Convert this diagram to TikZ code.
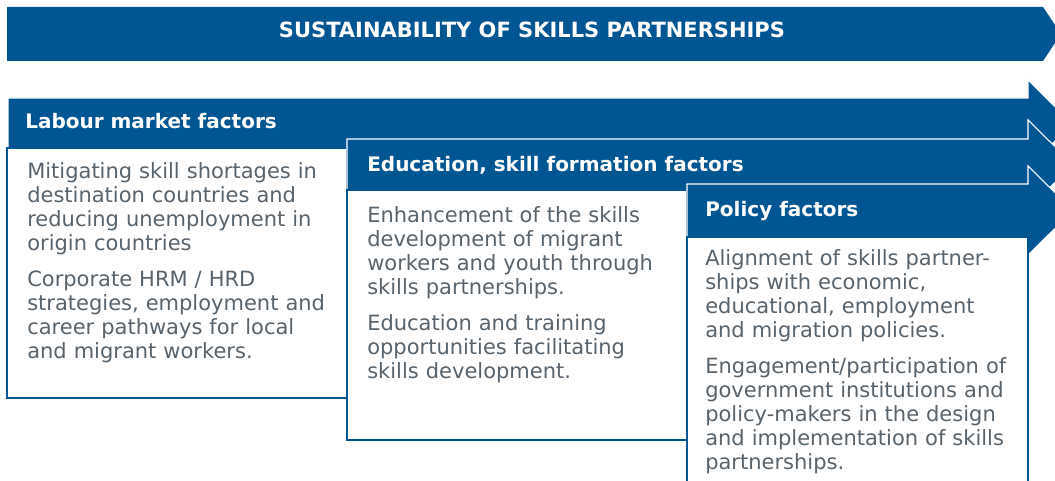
\documentclass[tikz,border=0pt]{standalone}
\usepackage{fontspec}
\setmainfont{DejaVu Sans}
\usepackage{tikz}

\definecolor{skillblue}{RGB}{0,85,147}
\definecolor{bodygray}{RGB}{88,99,108}

\tikzset{
  band/.style={fill=skillblue, draw=white, line width=0.8pt},
  factorbox/.style={fill=white, draw=skillblue, line width=1pt},
  bannertext/.style={text=white, inner sep=0pt, font=\bfseries\fontsize{15.75}{18}\selectfont},
  headtext/.style={text=white, inner sep=0pt, font=\bfseries\fontsize{15}{18}\selectfont},
  bodytext/.style={text=bodygray, inner sep=0pt, text width=235pt, align=left,
    font=\fontsize{15.75}{18}\selectfont}
}

\begin{document}
\begin{tikzpicture}[x=0.75pt, y=-0.75pt]
\useasboundingbox (0,0) rectangle (1055,481);
\clip (0,0) rectangle (1055,481);

%Title banner
\path[fill=skillblue]
(7, 7) --
(1043, 7) --
(1061, 34) --
(1043, 61) --
(7, 61) --
cycle;
\node[bannertext, anchor=base] (title) at (532, 38) {SUSTAINABILITY OF SKILLS PARTNERSHIPS};

% Labour market arrow
\path[band]
(8, 98) --
(1028, 98) --
(1028, 80) --
(1072, 124) --
(1028, 168) --
(1028, 150) --
(8, 150) --
cycle;
\draw[factorbox] (7, 148) rectangle (347, 398);
\node[headtext, anchor=base west] (labhead) at (25, 129) {Labour market factors};
\node[bodytext, anchor=base west] (labbody) at (27, 178) {Mitigating skill shortages in\\
destination countries and\\
reducing unemployment in\\
origin countries\\[9pt]
Corporate HRM / HRD\\
strategies, employment and\\
career pathways for local\\
and migrant workers.};

% Education arrow
\path[band]
(347, 139) --
(1028, 139) --
(1028, 120) --
(1073, 164.5) --
(1028, 209) --
(1028, 190) --
(347, 190) --
cycle;
\draw[factorbox] (347, 190) rectangle (687, 440);
\node[headtext, anchor=base west] (eduhead) at (367, 171.5) {Education, skill formation factors};
\node[bodytext, anchor=base west] (edubody) at (367, 222) {Enhancement of the skills\\
development of migrant\\
workers and youth through\\
skills partnerships.\\[9pt]
Education and training\\
opportunities facilitating\\
skills development.};

% Policy arrow
\path[band]
(687, 184) --
(1028, 184) --
(1028, 166) --
(1073, 210.5) --
(1028, 255) --
(1028, 237) --
(687, 237) --
cycle;
\draw[factorbox] (687, 237) rectangle (1028, 500);
\node[headtext, anchor=base west] (polhead) at (705, 216) {Policy factors};
\node[bodytext, anchor=base west] (polbody) at (705, 265) {Alignment of skills partner-\\
ships with economic,\\
educational, employment\\
and migration policies.\\[9pt]
Engagement/participation of\\
government institutions and\\
policy-makers in the design\\
and implementation of skills\\
partnerships.};

\end{tikzpicture}
\end{document}
